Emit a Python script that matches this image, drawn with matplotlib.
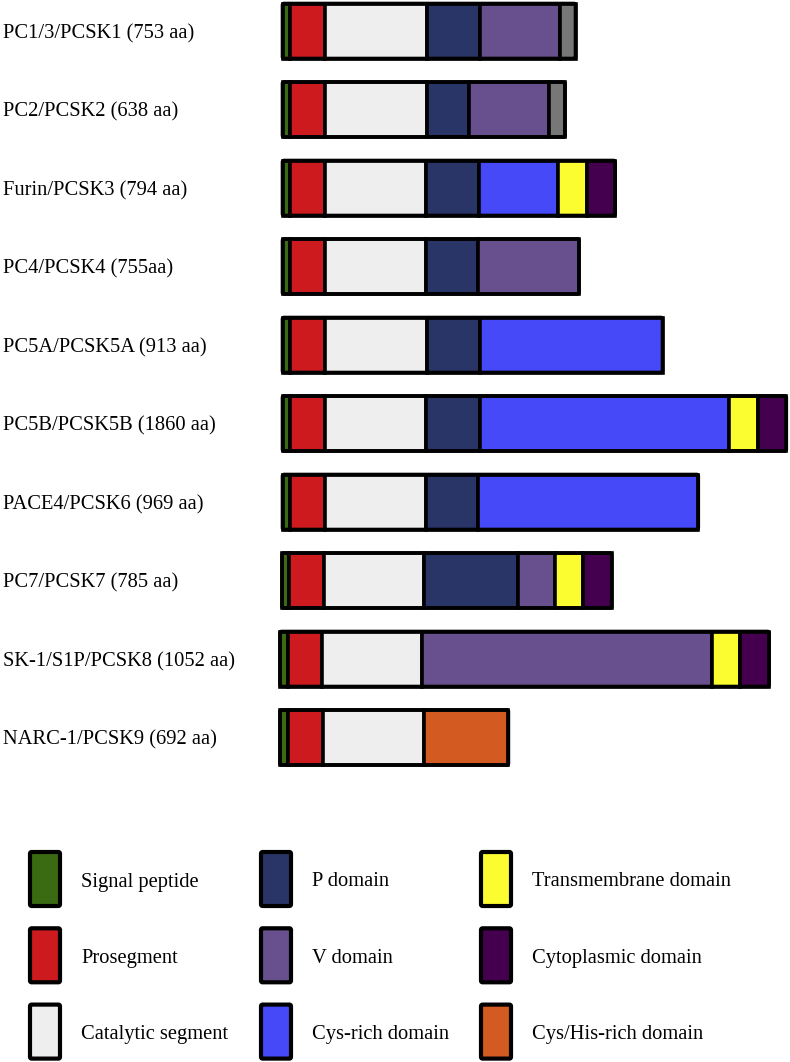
import matplotlib.pyplot as plt
from matplotlib.patches import Rectangle, FancyBboxPatch

# proprotein convertase family, domain organisation (lengths)
proteins = ['PC1/3/PCSK1 (753 aa)', 'PC2/PCSK2 (638 aa)', 'Furin/PCSK3 (794 aa)',
            'PC4/PCSK4 (755aa)', 'PC5A/PCSK5A (913 aa)', 'PC5B/PCSK5B (1860 aa)',
            'PACE4/PCSK6 (969 aa)', 'PC7/PCSK7 (785 aa)', 'SK-1/S1P/PCSK8 (1052 aa)',
            'NARC-1/PCSK9 (692 aa)']

domains = [
    ['sig', 'pro', 'cat', 'P', 'V', 'tail'],
    ['sig', 'pro', 'cat', 'P', 'V', 'tail'],
    ['sig', 'pro', 'cat', 'P', 'CRD', 'TM', 'CT'],
    ['sig', 'pro', 'cat', 'P', 'V'],
    ['sig', 'pro', 'cat', 'P', 'CRD'],
    ['sig', 'pro', 'cat', 'P', 'CRD', 'TM', 'CT'],
    ['sig', 'pro', 'cat', 'P', 'CRD'],
    ['sig', 'pro', 'cat', 'P', 'V', 'TM', 'CT'],
    ['sig', 'pro', 'cat', 'V', 'TM', 'CT'],
    ['sig', 'pro', 'cat', 'CHRD'],
]

lengths = [
    [7.7, 34.8, 101.5, 53.7, 79.6, 15.7],
    [7.7, 34.8, 101.5, 42.5, 80.0, 16.0],
    [7.5, 34.7, 101.0, 53.6, 78.7, 28.7, 28.5],
    [7.5, 34.7, 101.0, 52.6, 100.7],
    [7.5, 35.0, 102.0, 53.3, 182.2],
    [7.7, 34.5, 101.5, 54.0, 248.8, 28.5, 28.8],
    [7.5, 34.7, 100.8, 52.2, 220.6],
    [7.0, 34.8, 99.9, 94.3, 37.3, 27.4, 29.0],
    [7.6, 34.5, 99.7, 290.3, 28.2, 28.8],
    [7.9, 35.0, 100.9, 84.6],
]

row_start = [282.5, 282.5, 282.5, 282.5, 282.5, 282.5, 282.5, 282, 280, 280]

colors = {'sig': '#3a6b12', 'pro': '#cc1a1e', 'cat': '#eeeeee', 'P': '#283566',
          'V': '#68508e', 'tail': '#777777', 'CRD': '#4649f8', 'TM': '#fbfd31',
          'CT': '#44004e', 'CHRD': '#d35a20'}

legend_keys = ['sig', 'pro', 'cat', 'P', 'V', 'CRD', 'TM', 'CT', 'CHRD']
legend_labels = ['Signal peptide', 'Prosegment', 'Catalytic segment',
                 'P domain', 'V domain', 'Cys-rich domain',
                 'Transmembrane domain', 'Cytoplasmic domain', 'Cys/His-rich domain']

font = 'Liberation Serif'
fsize = 14.8

fig = plt.figure(figsize=(7.9, 10.62), dpi=100)
ax = fig.add_axes([0, 0, 1, 1])
ax.set_xlim(0, 790)
ax.set_ylim(1062, 0)
ax.axis('off')

lw = 2.6
row_h = 55
for i, name in enumerate(proteins):
    yc = 31 + 78.5 * i
    x = row_start[i]
    for d, w in zip(domains[i], lengths[i]):
        ax.add_patch(Rectangle((x, yc - row_h / 2), w, row_h, facecolor=colors[d],
                               edgecolor='black', linewidth=lw))
        x += w
    # outer frame with slightly rounded corners
    ax.add_patch(FancyBboxPatch((row_start[i], yc - row_h / 2), x - row_start[i], row_h,
                                boxstyle='round,pad=0,rounding_size=1.5',
                                facecolor='none', edgecolor='black', linewidth=lw,
                                joinstyle='round'))
    ax.text(3, yc + 7.3, name, fontsize=fsize, family=font, va='baseline', ha='left')

# legend
col_x = [30, 261, 481]
for k, (key, label) in enumerate(zip(legend_keys, legend_labels)):
    col, row = k // 3, k % 3
    yc = 879 + 76.3 * row
    ax.add_patch(FancyBboxPatch((col_x[col], yc - 27), 30, 54,
                                boxstyle='round,pad=0,rounding_size=1.5',
                                facecolor=colors[key], edgecolor='black', linewidth=3,
                                joinstyle='round'))
    ax.text(col_x[col] + 51, yc + 7.5, label, fontsize=fsize, family=font,
            va='baseline', ha='left')

plt.savefig('out.png', dpi=100)
